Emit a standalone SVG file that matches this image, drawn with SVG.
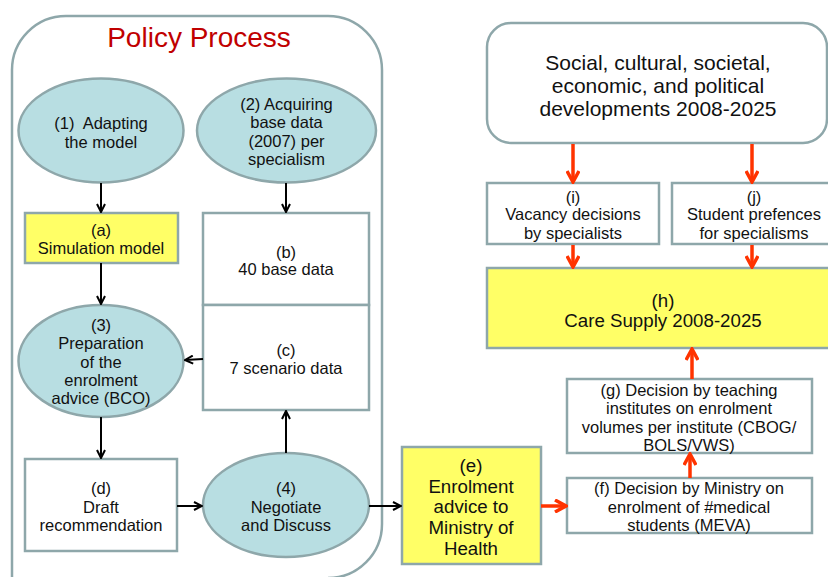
<svg xmlns="http://www.w3.org/2000/svg" width="828" height="577" viewBox="0 0 828 577">
  <style>
    text { font-family: "Liberation Sans", Arial, sans-serif; fill: #111; text-anchor: middle; dominant-baseline: central; }
    .t14 { font-size: 16.5px; }
    .t15 { font-size: 16.5px; }
    .t17 { font-size: 18.7px; }
    .t19 { font-size: 21px; }
    .title { font-size: 28px; fill: #c00000; }
    .frame { fill: none; stroke: #8ea7aa; stroke-width: 2.5; }
    .oval { fill: #b8dee2; stroke: #8ea7aa; stroke-width: 2.5; }
    .box { fill: #ffffff; stroke: #8ea7aa; stroke-width: 2.5; }
    .hi { fill: #ffff66; stroke: #8ea7aa; stroke-width: 2.5; }
    .blk { stroke: #000; stroke-width: 2; fill: none; }
    .red { stroke: #ff3300; stroke-width: 3.5; fill: none; }
  </style>
  <defs>
    <marker id="headBlack" viewBox="0 0 10 10" refX="9" refY="5" markerWidth="10" markerHeight="10" markerUnits="userSpaceOnUse" orient="auto">
      <path d="M1,1 L9,5 L1,9" fill="none" stroke="#000" stroke-width="2"/>
    </marker>
    <marker id="headRed" viewBox="0 0 14 14" refX="12" refY="7" markerWidth="14" markerHeight="14" markerUnits="userSpaceOnUse" orient="auto">
      <path d="M1,1 L12,7 L1,13" fill="none" stroke="#ff3300" stroke-width="3.5"/>
    </marker>
  </defs>

  <rect width="828" height="577" fill="#ffffff"/>

  <!-- Policy process container -->
  <g id="policy-process">
    <path class="frame" d="M12,600 L12,70 A54,54 0 0 1 66,16 L328,16 A54,54 0 0 1 382,70 L382,524 A54,54 0 0 1 328,578"/>
    <text class="title" x="199" y="37">Policy Process</text>
  </g>

  <g id="n1">
    <ellipse class="oval" cx="101" cy="130.5" rx="82.5" ry="52"/>
    <text class="t15" x="101" y="123" xml:space="preserve">(1)  Adapting</text>
    <text class="t15" x="101" y="142">the model</text>
  </g>

  <g id="n2">
    <ellipse class="oval" cx="286.5" cy="130.5" rx="89.5" ry="52"/>
    <text class="t15" x="286.5" y="104">(2) Acquiring</text>
    <text class="t15" x="286.5" y="122">base data</text>
    <text class="t15" x="286.5" y="141">(2007) per</text>
    <text class="t15" x="286.5" y="159">specialism</text>
  </g>

  <g id="na">
    <rect class="hi" x="25" y="213" width="153" height="50"/>
    <text class="t15" x="101" y="230">(a)</text>
    <text class="t15" x="101" y="248">Simulation model</text>
  </g>

  <g id="nb">
    <rect class="box" x="203" y="213" width="166" height="92"/>
    <text class="t15" x="286" y="252">(b)</text>
    <text class="t15" x="286" y="269">40 base data</text>
  </g>

  <g id="nc">
    <rect class="box" x="203" y="305" width="166" height="105"/>
    <text class="t15" x="286" y="350">(c)</text>
    <text class="t15" x="286" y="368">7 scenario data</text>
  </g>

  <g id="n3">
    <ellipse class="oval" cx="101" cy="361" rx="82.5" ry="56"/>
    <text class="t15" x="101" y="325">(3)</text>
    <text class="t15" x="101" y="343">Preparation</text>
    <text class="t15" x="101" y="362">of the</text>
    <text class="t15" x="101" y="380">enrolment</text>
    <text class="t15" x="101" y="398">advice (BCO)</text>
  </g>

  <g id="nd">
    <rect class="box" x="25" y="459" width="152" height="92"/>
    <text class="t15" x="101" y="488">(d)</text>
    <text class="t15" x="101" y="507">Draft</text>
    <text class="t15" x="101" y="525">recommendation</text>
  </g>

  <g id="n4">
    <ellipse class="oval" cx="286" cy="505" rx="83" ry="52"/>
    <text class="t15" x="286" y="488">(4)</text>
    <text class="t15" x="286" y="507">Negotiate</text>
    <text class="t15" x="286" y="525">and Discuss</text>
  </g>

  <g id="ne">
    <rect class="hi" x="402" y="447" width="139" height="117"/>
    <text class="t17" x="471" y="465">(e)</text>
    <text class="t17" x="471" y="486">Enrolment</text>
    <text class="t17" x="471" y="506">advice to</text>
    <text class="t17" x="471" y="527">Ministry of</text>
    <text class="t17" x="471" y="548">Health</text>
  </g>

  <g id="nf">
    <rect class="box" x="567" y="478" width="245" height="55"/>
    <text class="t14" x="689" y="488">(f) Decision by Ministry on</text>
    <text class="t14" x="689" y="507">enrolment of #medical</text>
    <text class="t14" x="689" y="525">students (MEVA)</text>
  </g>

  <g id="ng">
    <rect class="box" x="567" y="379" width="245" height="74"/>
    <text class="t14" x="689" y="390">(g) Decision by teaching</text>
    <text class="t14" x="689" y="408">institutes on enrolment</text>
    <text class="t14" x="689" y="427">volumes per institute (CBOG/</text>
    <text class="t14" x="689" y="445">BOLS/VWS)</text>
  </g>

  <g id="nh">
    <rect class="hi" x="487" y="268" width="360" height="80"/>
    <text class="t17" x="663" y="300">(h)</text>
    <text class="t17" x="663" y="320">Care Supply 2008-2025</text>
  </g>

  <g id="developments">
    <rect class="box" x="487" y="23" width="340" height="120" rx="24" ry="24"/>
    <text class="t19" x="658" y="62">Social, cultural, societal,</text>
    <text class="t19" x="658" y="85">economic, and political</text>
    <text class="t19" x="658" y="108">developments 2008-2025</text>
  </g>

  <g id="ni">
    <rect class="box" x="487" y="183" width="172" height="61"/>
    <text class="t14" x="573" y="197">(i)</text>
    <text class="t14" x="573" y="214">Vacancy decisions</text>
    <text class="t14" x="573" y="233">by specialists</text>
  </g>

  <g id="nj">
    <rect class="box" x="672" y="183" width="170" height="61"/>
    <text class="t14" x="754" y="197">(j)</text>
    <text class="t14" x="754" y="214">Student prefences</text>
    <text class="t14" x="754" y="233">for specialisms</text>
  </g>

  <!-- Connectors -->
  <g id="connectors">
    <line class="blk" x1="101" y1="183" x2="101" y2="212" marker-end="url(#headBlack)"/>
    <line class="blk" x1="286" y1="183" x2="286" y2="212" marker-end="url(#headBlack)"/>
    <line class="blk" x1="101" y1="263" x2="101" y2="304" marker-end="url(#headBlack)"/>
    <line class="blk" x1="203" y1="359" x2="185" y2="360" marker-end="url(#headBlack)"/>
    <line class="blk" x1="101" y1="417" x2="101" y2="458" marker-end="url(#headBlack)"/>
    <line class="blk" x1="177" y1="506" x2="202" y2="506" marker-end="url(#headBlack)"/>
    <line class="blk" x1="286" y1="453" x2="286" y2="411" marker-end="url(#headBlack)"/>
    <line class="blk" x1="369" y1="506" x2="401" y2="506" marker-end="url(#headBlack)"/>

    <line class="red" x1="541" y1="506" x2="566" y2="506" marker-end="url(#headRed)"/>
    <line class="red" x1="690" y1="478" x2="690" y2="454" marker-end="url(#headRed)"/>
    <line class="red" x1="692" y1="379" x2="692" y2="349" marker-end="url(#headRed)"/>
    <line class="red" x1="573" y1="144" x2="573" y2="182" marker-end="url(#headRed)"/>
    <line class="red" x1="752" y1="144" x2="752" y2="182" marker-end="url(#headRed)"/>
    <line class="red" x1="573" y1="245" x2="573" y2="267" marker-end="url(#headRed)"/>
    <line class="red" x1="752" y1="245" x2="752" y2="267" marker-end="url(#headRed)"/>
  </g>
</svg>
